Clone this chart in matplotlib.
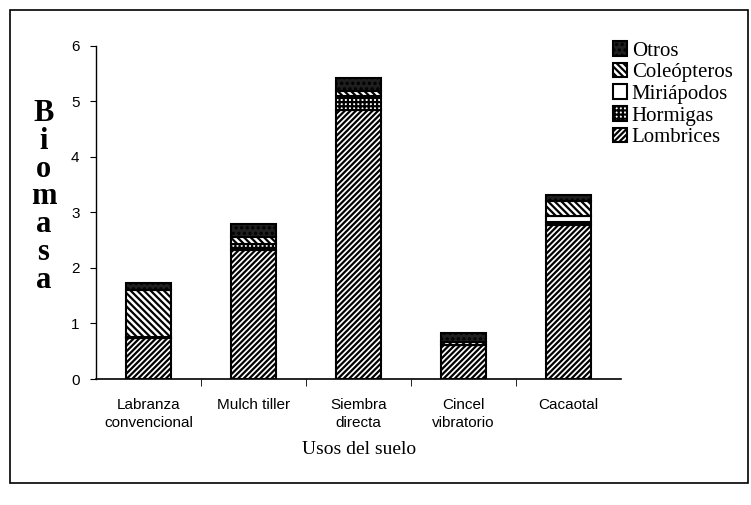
"""
Biomasa por uso del suelo (barras apiladas con tramas).
"""

import matplotlib
matplotlib.use("Agg")
import matplotlib.pyplot as plt
import matplotlib.patches as mpatches
from matplotlib.font_manager import FontProperties
import numpy as np

categorias = ["Labranza\nconvencional", "Mulch tiller", "Siembra\ndirecta",
              "Cincel\nvibratorio", "Cacaotal"]
lombrices = [0.73, 2.33, 4.85, 0.62, 2.78]
hormigas = [0.00, 0.10, 0.25, 0.00, 0.05]
miriapodos = [0.03, 0.00, 0.00, 0.00, 0.10]
coleopteros = [0.85, 0.12, 0.08, 0.05, 0.27]
otros = [0.12, 0.25, 0.24, 0.15, 0.12]

series = [
    ("Lombrices", lombrices, "white", "//////"),
    ("Hormigas", hormigas, "white", "++++"),
    ("Miriápodos", miriapodos, "white", ""),
    ("Coleópteros", coleopteros, "white", "\\\\\\\\\\"),
    ("Otros", otros, "0.12", "..."),
]

plt.rcParams["hatch.linewidth"] = 1.6
fig = plt.figure(figsize=(7.51, 5.05), dpi=100)
ax = fig.add_axes([0.128, 0.2495, 0.699, 0.6595])

inds = np.arange(len(categorias))
bottom = np.zeros(len(categorias))
handles = []
for nombre, vals, color, hatch in series:
    b = ax.bar(inds, vals, width=0.43, bottom=bottom, color=color,
               edgecolor="black", linewidth=1.5, hatch=hatch, label=nombre)
    handles.append(b)
    bottom += np.array(vals)

ax.set_xlim(-0.5, 4.5)
ax.set_ylim(0, 6)
ax.set_yticks(range(7))
ax.spines["top"].set_visible(False)
ax.spines["right"].set_visible(False)
ax.spines["left"].set_linewidth(1.0)
ax.spines["bottom"].set_linewidth(1.2)

ax.set_xticks(inds)
ax.set_xticklabels(categorias, fontfamily="Liberation Sans", fontsize=11,
                   linespacing=1.3)
ax.tick_params(axis="x", which="major", length=0, pad=14)
ax.set_xticks(inds[:-1] + 0.5, minor=True)
ax.tick_params(axis="x", which="minor", length=5, direction="out")
ax.tick_params(axis="y", length=4, direction="out", pad=8)
for lbl in ax.get_yticklabels():
    lbl.set_fontfamily("Liberation Sans")
    lbl.set_fontsize(11)

ax.set_xlabel("Usos del suelo", fontfamily="Liberation Serif", fontsize=14,
              labelpad=8)
fig.text(0.058, 0.61, "\n".join("Biomasa"), fontfamily="Liberation Serif",
         fontweight="bold", fontsize=22, ha="center", va="center",
         linespacing=0.95)

leg_font = FontProperties(family="Liberation Serif", size=15)
ax.legend(handles[::-1], [s[0] for s in series][::-1], loc="upper left",
          bbox_to_anchor=(0.805, 0.935), bbox_transform=fig.transFigure,
          frameon=False, prop=leg_font,
          handlelength=0.7, handleheight=0.7, handletextpad=0.2,
          labelspacing=0.1, borderaxespad=0)

fig.patches.append(mpatches.Rectangle((0.013, 0.044), 0.983, 0.937,
                                      transform=fig.transFigure, fill=False,
                                      edgecolor="black", linewidth=1.2))

fig.savefig("out.png", dpi=100)
